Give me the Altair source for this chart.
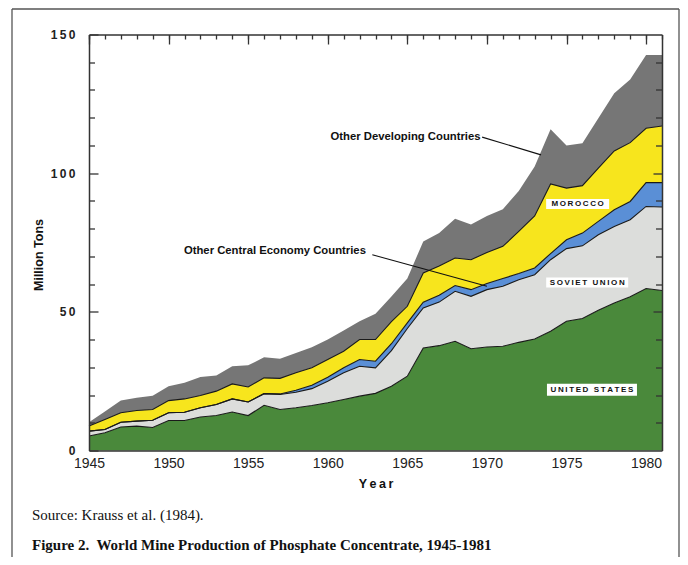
import altair as alt
import pandas as pd

# ---------------- data (million tons) ----------------
years = list(range(1945, 1982))
united_states = [5.2, 6.4, 8.5, 8.8, 8.3, 10.8, 10.8, 12.1, 12.6, 13.9,
                 12.6, 16.3, 14.8, 15.4, 16.2, 17.2, 18.4, 19.6, 20.6, 23.2,
                 26.8, 37.0, 37.8, 39.4, 36.7, 37.3, 37.6, 39.0, 40.2, 43.0,
                 46.6, 47.6, 50.6, 53.2, 55.4, 58.4, 57.7]
soviet_union = [1.8, 1.2, 1.7, 1.8, 2.6, 2.8, 3.0, 3.3, 4.0, 4.7,
                4.9, 4.2, 5.4, 5.6, 6.1, 7.8, 9.6, 10.8, 9.2, 12.8,
                17.2, 14.4, 15.7, 18.0, 18.9, 20.7, 21.6, 22.6, 23.2, 25.8,
                26.2, 26.2, 27.2, 27.6, 27.8, 29.6, 30.1]
other_central = [0, 0, 0, 0, 0, 0, 0, 0, 0, 0,
                 0, 0, 0.2, 0.7, 1.2, 1.4, 1.8, 2.4, 2.4, 2.5,
                 2.0, 2.1, 2.5, 2.1, 2.4, 2.2, 2.8, 2.2, 2.4, 2.2,
                 3.2, 4.6, 4.8, 6.0, 6.6, 8.6, 8.8]
morocco = [1.8, 3.6, 3.4, 3.8, 3.9, 4.4, 4.8, 4.4, 4.8, 5.4,
           5.4, 5.7, 5.6, 6.3, 6.3, 6.4, 6.0, 7.2, 7.8, 8.0,
           6.0, 10.5, 10.5, 9.9, 10.8, 11.2, 11.6, 15.2, 18.8, 25.1,
           18.6, 17.1, 19.2, 21.2, 21.2, 19.6, 20.4]
other_developing = [1.4, 2.9, 4.4, 4.6, 4.9, 5.2, 5.8, 6.7, 5.6, 6.4,
                    7.8, 7.4, 7.1, 7.2, 7.4, 7.2, 7.5, 6.6, 9.3, 9.0,
                    10.0, 11.4, 11.9, 14.2, 12.7, 13.2, 13.4, 14.6, 17.8, 19.7,
                    15.4, 15.3, 18.0, 20.8, 22.8, 26.4, 25.6]

series_names = ["United States", "Soviet Union", "Other Central Economy Countries",
                "Morocco", "Other Developing Countries"]
series_colors = ["#4a893b", "#dcdddb", "#5a8fd6", "#f7e51d", "#767676"]

x_label_years = [1945, 1950, 1955, 1960, 1965, 1970, 1975, 1980]
y_label_values = [0, 50, 100, 150]
y_minor_values = [10, 20, 30, 40, 60, 70, 80, 90, 110, 120, 130, 140]

# callout annotations
callout_text = ["Other Developing Countries", "Other Central Economy Countries"]
callout_x = [1969.6, 1962.4]
callout_y = [113.1, 72.0]
leader_x1 = [1969.7, 1962.8]
leader_y1 = [113.0, 70.6]
leader_x2 = [1973.4, 1970.0]
leader_y2 = [106.6, 59.2]

# boxed series labels
box_label = ["MOROCCO", "SOVIET UNION", "UNITED STATES"]
box_x = [1975.7, 1976.3, 1976.6]
box_y = [88.9, 60.6, 21.9]

source_text = "Source: Krauss et al. (1984)."
figure_text = "Figure 2.\u00a0 World Mine Production of Phosphate Concentrate, 1945-1981"

# ---------------- tables ----------------
all_series = [united_states, soviet_union, other_central, morocco, other_developing]
rows = []
for i, yr in enumerate(years):
    lo = 0.0
    for name, vals in zip(series_names, all_series):
        hi = lo + vals[i]
        rows.append({"year": yr, "series": name, "lo": round(lo, 2), "hi": round(hi, 2)})
        lo = hi
df = pd.DataFrame(rows)
df_lines = df[df["series"] != "Other Developing Countries"]

callouts = pd.DataFrame({"t": callout_text, "x": callout_x, "y": callout_y})
leaders = pd.DataFrame({"x1": leader_x1, "y1": leader_y1, "x2": leader_x2, "y2": leader_y2})
boxes = pd.DataFrame({"label": box_label, "x": box_x, "y": box_y})


def spaced(s):
    return "\u2009 \u2009".join("\u2009".join(w) for w in s.split(" "))


boxes["text"] = [spaced(s) for s in box_label]

xs = alt.Scale(domain=[1945, 1981], nice=False, zero=False)
ys = alt.Scale(domain=[0, 150], nice=False)

SANS = "Liberation Sans, Arial"
FRAME = "#333333"

base_axis = dict(grid=False, zindex=1, tickColor=FRAME, tickWidth=1.3,
                 domainColor=FRAME, domainWidth=1.5, labelColor="#222222")


def ax(**kw):
    d = dict(base_axis)
    d.update(kw)
    return alt.Axis(**d)


dummy = pd.DataFrame({"year": [1945], "v": [0]})


def axis_layer(xaxis, yaxis):
    return alt.Chart(dummy).mark_point(opacity=0).encode(
        x=alt.X("year:Q", scale=xs, axis=xaxis),
        y=alt.Y("v:Q", scale=ys, axis=yaxis),
    )


# ---------------- marks ----------------
areas = alt.Chart(df).mark_area(interpolate="linear").encode(
    x=alt.X("year:Q", scale=xs, axis=None),
    y=alt.Y("lo:Q", scale=ys, axis=None),
    y2="hi:Q",
    color=alt.Color("series:N", scale=alt.Scale(domain=series_names, range=series_colors), legend=None),
)

lines = alt.Chart(df_lines).mark_line(color="#1a1a1a", strokeWidth=1.1).encode(
    x=alt.X("year:Q", scale=xs, axis=None),
    y=alt.Y("hi:Q", scale=ys, axis=None),
    detail="series:N",
)

box_sizes = {"MOROCCO": (63, 10), "SOVIET UNION": (82, 10), "UNITED STATES": (90, 12)}
box_layers = []
for name, (w, h) in box_sizes.items():
    box_layers.append(
        alt.Chart(boxes[boxes["label"] == name]).mark_rect(
            color="white", xOffset=-w / 2, x2Offset=w / 2, yOffset=-h / 2, y2Offset=h / 2
        ).encode(
            x=alt.X("x:Q", scale=xs, axis=None), x2="x:Q",
            y=alt.Y("y:Q", scale=ys, axis=None), y2="y:Q",
        )
    )

box_text = alt.Chart(boxes).mark_text(
    font=SANS, fontWeight="bold", fontSize=8, color="#111111",
    align="center", baseline="middle", dy=0.5,
).encode(
    x=alt.X("x:Q", scale=xs, axis=None),
    y=alt.Y("y:Q", scale=ys, axis=None),
    text="text:N",
)

leader_rules = alt.Chart(leaders).mark_rule(color="#111111", strokeWidth=1.1).encode(
    x=alt.X("x1:Q", scale=xs, axis=None), x2="x2:Q",
    y=alt.Y("y1:Q", scale=ys, axis=None), y2="y2:Q",
)

callout_labels = alt.Chart(callouts).mark_text(
    font=SANS, fontWeight="bold", fontSize=11.3, color="#111111",
    align="right", baseline="middle",
).encode(
    x=alt.X("x:Q", scale=xs, axis=None),
    y=alt.Y("y:Q", scale=ys, axis=None),
    text="t:N",
)

# ---------------- axes (inward ticks via negative offsets) ----------------
ylabel_expr = "join(split(datum.label, ''), '\u2009')"

axA = axis_layer(
    ax(orient="bottom", values=x_label_years, format="d", ticks=False, domain=True,
       labelFont=SANS, labelFontSize=14, labelPadding=6, labelFlush=False,
       title="Y\u2009e\u2009a\u2009r", titleFont=SANS, titleFontSize=12.5,
       titleFontWeight="bold", titlePadding=7, titleColor="#111111"),
    ax(orient="left", values=y_label_values, tickSize=9, offset=-9, domain=False,
       labelFont=SANS, labelFontSize=12, labelFontWeight="bold", labelPadding=14,
       labelExpr=ylabel_expr, labelFlush=False,
       title="Million Tons", titleFont=SANS, titleFontSize=12.5,
       titleFontWeight="bold", titlePadding=5, titleY=220, titleColor="#111111"),
)
axB = axis_layer(
    ax(orient="top", values=years, tickSize=4.5, offset=-4.5, labels=False, domain=False, title=None),
    ax(orient="left", values=y_minor_values, tickSize=5.5, offset=-5.5, labels=False, domain=False, title=None),
)
axC = axis_layer(
    ax(orient="top", values=x_label_years, tickSize=9.5, offset=-9.5, labels=False, domain=False, title=None),
    ax(orient="right", values=y_minor_values, tickSize=6.5, offset=-6.5, labels=False, domain=False, title=None),
)
axD = axis_layer(
    ax(orient="top", ticks=False, labels=False, domain=True, title=None),
    ax(orient="left", ticks=False, labels=False, domain=True, title=None),
)
axE = axis_layer(
    None,
    ax(orient="right", ticks=False, labels=False, domain=True, title=None),
)
axF = axis_layer(
    None,
    ax(orient="right", values=[50, 100], tickSize=9, offset=-9, labels=False, domain=False, title=None),
)

# ---------------- caption and outer frame ----------------
cap1 = alt.Chart(pd.DataFrame({"t": [source_text]})).mark_text(
    font="Liberation Serif", fontSize=15, color="#111111", align="left", baseline="middle"
).encode(text="t:N", x=alt.value(-57), y=alt.value(480.5))
cap2 = alt.Chart(pd.DataFrame({"t": [figure_text]})).mark_text(
    font="Liberation Serif", fontSize=15, fontWeight="bold", color="#111111",
    align="left", baseline="middle"
).encode(text="t:N", x=alt.value(-57), y=alt.value(510.5))

frame_left = alt.Chart(dummy).mark_rule(color="#555555", strokeWidth=1.3).encode(
    x=alt.value(-77), y=alt.value(-25.5), y2=alt.value(525))
frame_top = alt.Chart(dummy).mark_rule(color="#555555", strokeWidth=1.3).encode(
    x=alt.value(-77), x2=alt.value(590), y=alt.value(-25.5))
frame_right = alt.Chart(dummy).mark_rule(color="#555555", strokeWidth=1.3).encode(
    x=alt.value(590), y=alt.value(-25.5), y2=alt.value(525))

chart = alt.layer(
    areas, lines, *box_layers, box_text, leader_rules, callout_labels,
    axA, axB, axC, axD, axE, axF,
    cap1, cap2, frame_left, frame_top, frame_right,
).resolve_axis(
    x="independent", y="independent"
).properties(
    width=573, height=416,
    autosize=alt.AutoSizeParams(type="none"),
    padding={"left": 81, "top": 26.5, "right": 18, "bottom": 106},
    background="white",
).configure_view(stroke=None)

chart.save("out.html", embed_options={"renderer": "svg", "actions": False})
